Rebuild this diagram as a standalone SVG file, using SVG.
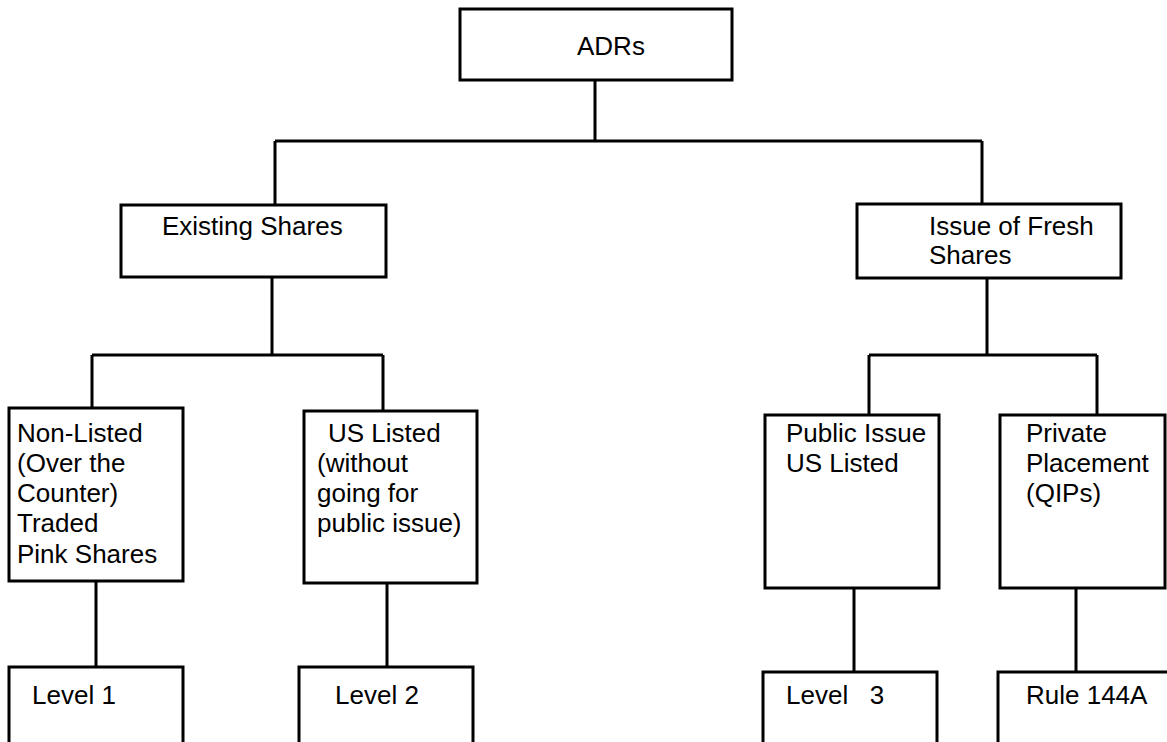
<svg xmlns="http://www.w3.org/2000/svg" width="1167" height="742" viewBox="0 0 1167 742">
<style>
.box{fill:#fff;stroke:#000;stroke-width:3}
.c{fill:none;stroke:#000;stroke-width:3}
text{font-family:"Liberation Sans",Arial,sans-serif;font-size:26px;fill:#000}
</style>
<rect x="0" y="0" width="1167" height="742" fill="#fff"/>
<g id="connectors">
<path class="c" d="M595 80V141M275 141H982M275 141V205M982 141V204"/>
<path class="c" d="M272 277V355M92 355H383M92 355V408M383 355V411"/>
<path class="c" d="M987 278V355M869 355H1097M869 355V415M1097 355V415"/>
<path class="c" d="M96 581V667M387 583V667M854 588V672M1076 588V672"/>
</g>
<g id="adrs"><rect class="box" x="460" y="9" width="272" height="71"/><text x="577" y="55">ADRs</text></g>
<g id="existing"><rect class="box" x="121" y="205" width="265" height="72"/><text x="162" y="235">Existing Shares</text></g>
<g id="fresh"><rect class="box" x="857" y="204" width="264" height="74"/><text x="929" y="235">Issue of Fresh</text><text x="929" y="264">Shares</text></g>
<g id="nonlisted"><rect class="box" x="9" y="408" width="174" height="173"/>
<text x="17" y="442">Non-Listed</text><text x="17" y="472">(Over the</text><text x="17" y="502">Counter)</text><text x="17" y="532">Traded</text><text x="17" y="563">Pink Shares</text></g>
<g id="uslisted"><rect class="box" x="304" y="411" width="173" height="172"/>
<text x="328" y="442">US Listed</text><text x="317" y="472">(without</text><text x="317" y="502">going for</text><text x="317" y="532">public issue)</text></g>
<g id="public"><rect class="box" x="765" y="415" width="174" height="173"/>
<text x="786" y="442">Public Issue</text><text x="786" y="472">US Listed</text></g>
<g id="private"><rect class="box" x="1000" y="415" width="165" height="173"/>
<text x="1026" y="442">Private</text><text x="1026" y="472">Placement</text><text x="1026" y="502">(QIPs)</text></g>
<g id="level1"><rect class="box" x="9" y="667" width="174" height="100"/><text x="32" y="704">Level 1</text></g>
<g id="level2"><rect class="box" x="299" y="667" width="174" height="100"/><text x="335" y="704">Level 2</text></g>
<g id="level3"><rect class="box" x="763" y="672" width="174" height="100"/><text x="786" y="704" xml:space="preserve">Level   3</text></g>
<g id="rule144a"><rect class="box" x="998" y="672" width="180" height="100"/><text x="1026" y="704">Rule 144A</text></g>
</svg>
